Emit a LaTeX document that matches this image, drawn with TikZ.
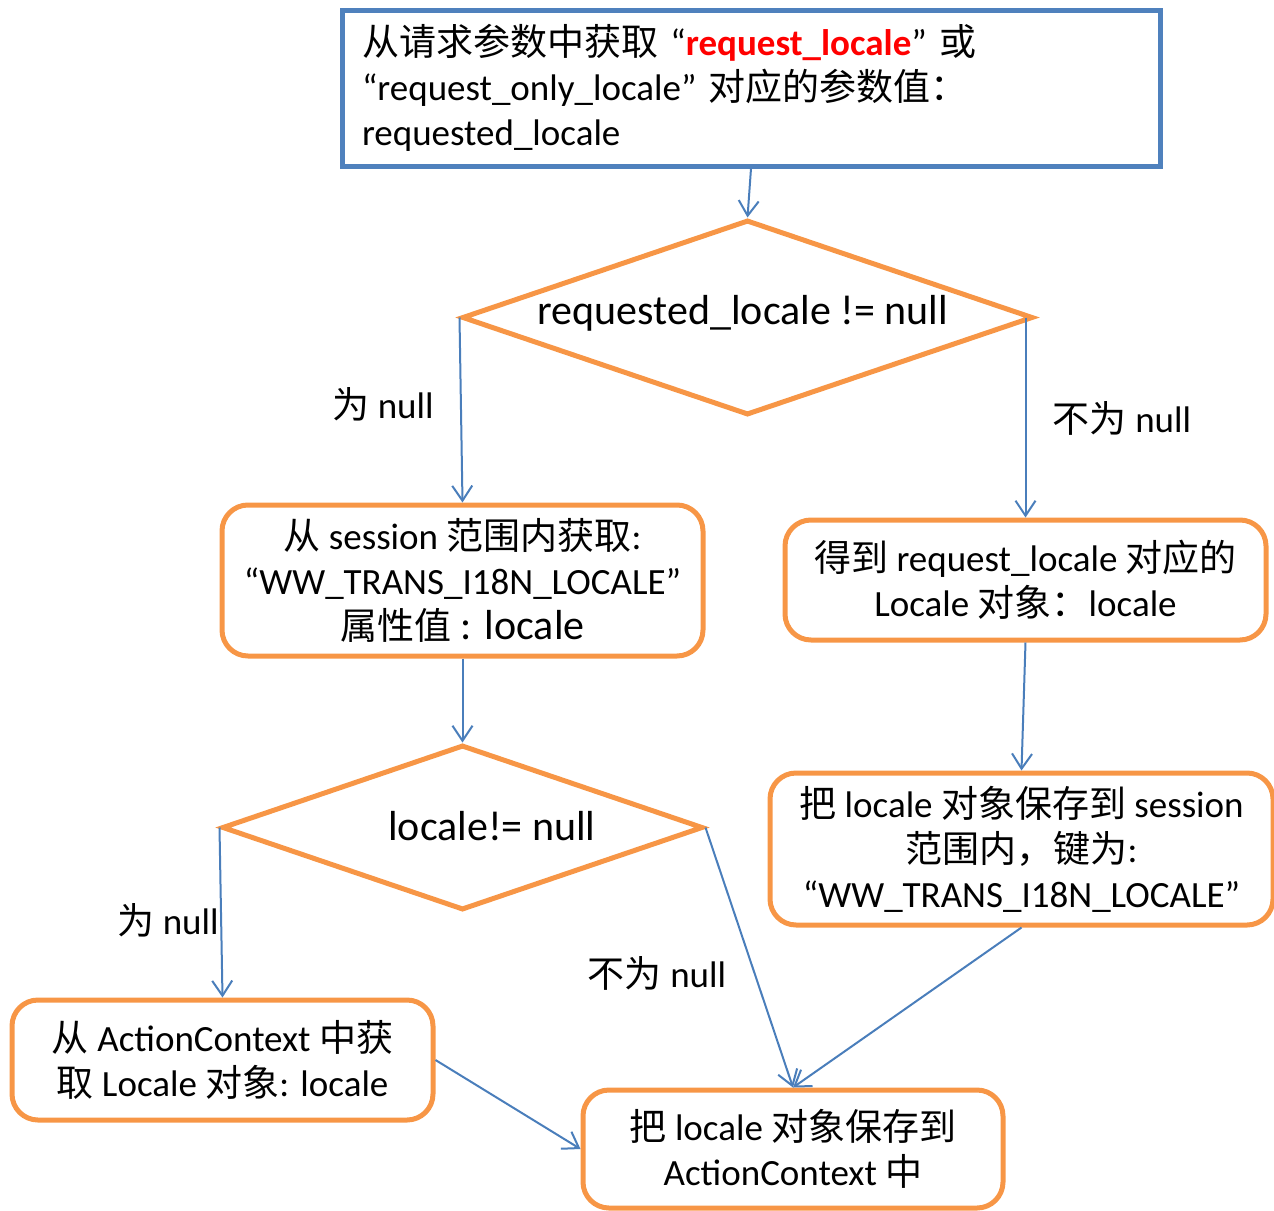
\documentclass[tikz,border=0pt]{standalone}
\usepackage{fontspec}
\setmainfont{Carlito}
\newfontfamily\cjk{Noto Sans CJK SC}
\usetikzlibrary{arrows.meta,shapes.geometric}
\definecolor{boxorange}{RGB}{247,150,70}
\definecolor{boxblue}{RGB}{79,129,189}
\definecolor{flowblue}{RGB}{74,126,187}
\definecolor{keyred}{RGB}{255,0,0}
\tikzset{
  stepbox/.style={draw=boxorange, line width=5pt, rounded corners=26pt,
    align=center, inner sep=0pt},
  decision/.style={diamond, draw=boxorange, line width=5pt, inner sep=0pt, aspect=2.9},
  flow/.style={draw=flowblue, line width=2pt,
    -{Straight Barb[length=15pt,width=20pt,line width=2pt]}},
  lbl/.style={inner sep=0pt, font=\fontsize{37}{45}\selectfont},
}
\begin{document}
\begin{tikzpicture}[x=1pt,y=-1pt, font=\fontsize{37}{45}\selectfont]
\useasboundingbox (0,0) rectangle (1274,1210);

% start: read the locale parameter from the request
\node[draw=boxblue, line width=5pt, minimum width=818pt, minimum height=156pt,
      text width=778pt, align=left, inner xsep=20pt, inner ysep=0pt]
  (start) at (751,88)
  {{\cjk 从请求参数中获取} “\textbf{\color{keyred}request\_locale}” {\cjk 或}\\
   “request\_only\_locale” {\cjk 对应的参数值：}\\
   requested\_locale};

% first decision
\node[decision, minimum width=571pt, minimum height=195pt] (d1) at (747.5,317.5) {};
\node[lbl, font=\fontsize{42}{50}\selectfont] (d1t) at (743,313) {requested\_locale != null};

% session lookup
\node[stepbox, minimum width=481pt, minimum height=151pt] (sess) at (462.5,580.5)
  {{\cjk 从} session {\cjk 范围内获取}:\\
   “WW\_TRANS\_I18N\_LOCALE”\\
   {\fontsize{42}{48}\selectfont{\fontsize{37}{48}\selectfont\cjk 属性值} : locale}};

% locale from request
\node[stepbox, minimum width=481pt, minimum height=120pt] (req) at (1025.5,580)
  {{\cjk 得到} request\_locale {\cjk 对应的}\\
   Locale {\cjk 对象：}locale};

% second decision
\node[decision, minimum width=481pt, minimum height=165pt] (d2) at (462.5,827.5) {};
\node[lbl, font=\fontsize{42}{50}\selectfont] (d2t) at (492,826) {locale!= null};

% store into session
\node[stepbox, minimum width=503pt, minimum height=152pt] (save) at (1021.5,849)
  {{\cjk 把} locale {\cjk 对象保存到} session\\
   {\cjk 范围内，键为}:\\
   “WW\_TRANS\_I18N\_LOCALE”};

% fallback: ActionContext
\node[stepbox, minimum width=421pt, minimum height=120pt] (ctx) at (222.5,1060)
  {{\cjk 从} ActionContext {\cjk 中获}\\
   {\cjk 取} Locale {\cjk 对象}: locale};

% final store
\node[stepbox, minimum width=420pt, minimum height=118pt] (final) at (793,1149)
  {{\cjk 把} locale {\cjk 对象保存到}\\
   ActionContext {\cjk 中}};

% connectors
\draw[flow] (start.south) -- (d1.north);
\draw[flow] (d1.west) -- (sess.north);
\draw[flow] (d1.east -| req.north) -- (req.north);
\draw[flow] (sess.south) -- (d2.north);
\draw[flow] (req.south) -- (save.north);
\draw[flow] (d2.west) -- (ctx.north);
\draw[flow] (d2.east) -- (final.north);
\draw[flow] (save.south) -- (final.north);
\draw[flow] (ctx.east) -- (final.west);

% branch labels
\node[lbl] (n1) at (383,404) {{\cjk 为} null};
\node[lbl] (n2) at (1122,418) {{\cjk 不为} null};
\node[lbl] (n3) at (168,920) {{\cjk 为} null};
\node[lbl] (n4) at (657,973) {{\cjk 不为} null};
\end{tikzpicture}
\end{document}
